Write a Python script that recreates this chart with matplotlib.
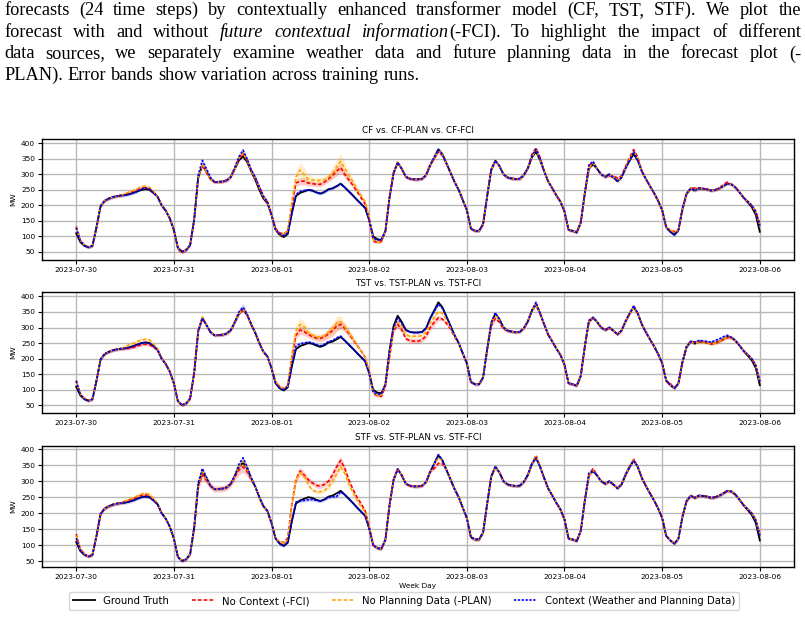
import matplotlib
matplotlib.use("Agg")
import matplotlib.dates as mdates
import matplotlib.pyplot as plt
import numpy as np
import pandas as pd
from matplotlib.ticker import MultipleLocator

W, H = 805, 619

# hourly load, 2023-07-30 00:00 .. 2023-08-06 00:00
HOURS = pd.date_range("2023-07-30", periods=169, freq="h")
TRUTH = [
    110, 82, 70, 65, 70, 130, 198, 215, 222, 227, 230, 232, 233, 236, 240, 245, 250, 252, 250, 240, 228, 200, 183, 158,
    121, 63, 51, 56, 72, 155, 290, 330, 308, 285, 275, 276, 277, 281, 292, 318, 345, 358, 340, 310, 283, 250, 222, 207,
    169, 121, 105, 98, 108, 175, 230, 240, 245, 250, 248, 242, 238, 243, 252, 255, 262, 270, 258, 245, 232, 218, 205, 192,
    153, 100, 91, 89, 118, 225, 305, 338, 318, 292, 286, 284, 284, 286, 298, 330, 355, 381, 365, 335, 305, 275, 250, 217,
    185, 125, 118, 118, 140, 230, 315, 344, 327, 300, 290, 287, 285, 286, 298, 320, 355, 373, 345, 310, 277, 255, 232, 212,
    180, 121, 118, 113, 145, 240, 318, 332, 318, 300, 292, 300, 290, 278, 290, 320, 345, 365, 345, 310, 285, 262, 240, 215,
    185, 129, 115, 105, 121, 190, 238, 255, 248, 255, 254, 252, 248, 250, 255, 262, 270, 268, 258, 242, 225, 210, 195, 170,
    115,
]

# forecast minus ground truth: {first hour: [gap, gap, ...]}, 0 elsewhere
CF_FCI_GAP = {0: [22, 6, 3], 12: [4, 5, 6, 6, 6, 5, 4, 3], 25: [-4, -3], 39: [3, 6, 10, 6, 4, 5, 8, 5, 3],
              49: [5, 6, 10, 10, 25, 42, 38, 33, 22, 22, 26, 30, 32, 33, 42, 48, 52, 42, 37, 33, 27, 20, 13, 5],
              73: [-15, -10, -5], 87: [3, -3, -8, -5], 112: [10, 12, 10],
              126: [10, 8, 0, 0, 0, -5, 5, 10, 5, 5, 10, 15, 10], 146: [5, 10, 0, -5, 0, 0, 8], 159: [5, 5],
              165: [3, 5, 10, 25]}
CF_PLAN_GAP = {0: [20, 5, 3], 12: [5, 7, 8, 9, 10, 10, 8, 5], 31: [5], 40: [8, 12, 6], 44: [5, 8, 5, 4],
               51: [10, 10, 38, 62, 74, 55, 35, 34, 38, 42, 40, 40, 50, 62, 72, 62, 52, 45, 36, 28, 20, 8],
               73: [-12, -8, -4], 89: [-3], 113: [8], 127: [5], 136: [5, 10, 5], 146: [5, 8], 165: [3, 5, 10, 22]}
CF_CTX_GAP = {0: [18, 4], 16: [3, 4, 3], 30: [8, 15, 10, 5], 39: [5, 12, 20, 10, 5, 8, 10, 8, 5],
              50: [3, 5, 3, 0, 5, 5, 3], 73: [-5, -3], 89: [-2], 112: [5, 8, 5], 126: [12, 10], 137: [8],
              165: [3, 5, 10, 20]}

TST_FCI_GAP = {0: [20, 5, 3], 13: [-3, -4, -5, -5, -6, -5, -3],
               49: [5, 5, 5, 5, 30, 45, 52, 42, 28, 23, 24, 27, 27, 28, 35, 43, 40, 40, 35, 30, 25, 20, 12, 5],
               73: [-12, -10, -10, -5, -20, -15, -28, -25, -28, -28, -28, -28, -25, -25, -30, -38, -50, -38, -22, -10, -5],
               102: [-10, -15, -10, -5], 113: [3], 126: [3], 137: [3], 146: [5], 152: [5], 160: [-3],
               165: [3, 5, 8, 12]}
TST_PLAN_GAP = {0: [18, 5, 3], 12: [6, 8, 9, 10, 10, 10, 10, 7, 4], 31: [5],
                49: [5, 5, 5, 5, 35, 60, 70, 58, 35, 28, 28, 32, 30, 33, 42, 52, 48, 45, 40, 33, 27, 20, 12, 5],
                73: [-10, -8, -5, 0, -12, -10, -20, -15, -15, -14, -12, -12, -12, -12, -15, -22, -30, -20, -10, -5],
                103: [-5], 165: [3, 5, 8, 10]}
TST_CTX_GAP = {0: [18, 4], 40: [5, 7, 3], 51: [3, 3, 5, 10, 8, 5, 3, 3, 3, 3, 3, 3, 3, 5, 2],
               73: [-8, -5, -3], 78: [-5, -8, -5], 88: [-3, -6, -3], 103: [3], 113: [8], 126: [5], 137: [5],
               152: [5, 3, 3, 3, 5, 8, 8, 8, 5], 165: [3, 5, 8, 12]}

STF_FCI_GAP = {0: [25, 6, 3], 12: [4, 5, 6, 6, 6, 6, 5, 3], 30: [-5, -10, -5], 39: [-5, -10, -13, -10, -5],
               50: [5, 10, 15, 55, 75, 92, 75, 55, 47, 45, 47, 47, 48, 65, 83, 95, 82, 60, 43, 32, 25, 16, 5],
               88: [-15, -25, -10], 113: [8], 127: [8], 137: [3], 165: [3, 5, 10, 20]}
STF_PLAN_GAP = {0: [20, 5, 3], 12: [5, 7, 8, 9, 10, 10, 9, 6, 3], 31: [3], 41: [5],
                50: [5, 8, 10, 50, 72, 87, 70, 40, 25, 25, 29, 28, 30, 45, 60, 75, 67, 45, 33, 22, 15, 13, 5],
                89: [-8], 113: [7], 165: [3, 5, 10, 18]}
STF_CTX_GAP = {0: [12, 3], 30: [5, 10, 5], 40: [8, 15, 5],
               52: [3, 0, 5, -2, -5, -8, -5, -2, 0, 0, -3, -3, -10, -3], 89: [2], 103: [3], 126: [8],
               165: [3, 5, 8, 15]}

# half width of the error band across training runs (MW); BAND_BASE elsewhere
BAND_BASE = 5
CF_FCI_BAND = {53: [6, 10, 12, 12, 10, 8, 8, 8, 8, 10, 12, 15, 15, 12, 10, 8]}
CF_PLAN_BAND = {53: [10, 20, 25, 22, 15, 10, 10, 10, 10, 12, 18, 22, 25, 20, 15, 10, 8]}
CF_CTX_BAND = {}
TST_FCI_BAND = {53: [8, 12, 15, 12, 10, 10, 10, 10, 12, 15, 18, 18, 15, 12, 10, 8],
                79: [10, 10, 8, 8, 8, 8, 8, 8, 10, 12, 10]}
TST_PLAN_BAND = {53: [10, 18, 22, 18, 12, 10, 10, 10, 10, 12, 18, 22, 20, 15, 12, 10]}
TST_CTX_BAND = {39: [8, 10, 12, 8]}
STF_FCI_BAND = {29: [8, 12, 15, 12, 10, 10, 10, 10, 10, 10, 12, 15, 18, 15, 10],
                53: [8, 10, 12, 10, 8, 8, 8, 8, 8, 10, 12, 15, 12, 10]}
STF_PLAN_BAND = {53: [8, 10, 10, 8, 6, 6, 6, 6, 6, 8, 10, 10, 8]}
STF_CTX_BAND = {}

TITLES = ["CF vs. CF-PLAN vs. CF-FCI", "TST vs. TST-PLAN vs. TST-FCI", "STF vs. STF-PLAN vs. STF-FCI"]
YLIMS = [(24, 414), (25.5, 414), (32, 410)]
GAPS = [
    (CF_FCI_GAP, CF_PLAN_GAP, CF_CTX_GAP),
    (TST_FCI_GAP, TST_PLAN_GAP, TST_CTX_GAP),
    (STF_FCI_GAP, STF_PLAN_GAP, STF_CTX_GAP),
]
BANDS = [
    (CF_FCI_BAND, CF_PLAN_BAND, CF_CTX_BAND),
    (TST_FCI_BAND, TST_PLAN_BAND, TST_CTX_BAND),
    (STF_FCI_BAND, STF_PLAN_BAND, STF_CTX_BAND),
]
SERIES_LABELS = ["No Context (-FCI)", "No Planning Data (-PLAN)", "Context (Weather and Planning Data)"]
SERIES_COLORS = ["red", "orange", "blue"]
SERIES_DASHES = [(0, (2.2, 1.3)), (0, (2.2, 1.3)), (0, (1.4, 0.9))]

CAPTION = [
    [[("forecasts", "normal")], [("(24", "normal")], [("time", "normal")], [("steps)", "normal")],
     [("by", "normal")], [("contextually", "normal")], [("enhanced", "normal")], [("transformer", "normal")],
     [("model", "normal")], [("(CF,", "normal")], [("TST,", "normal")], [("STF).", "normal")],
     [("We", "normal")], [("plot", "normal")], [("the", "normal")]],
    [[("forecast", "normal")], [("with", "normal")], [("and", "normal")], [("without", "normal")],
     [("future", "italic")], [("contextual", "italic")], [("information", "italic"), ("(-FCI).", "normal")],
     [("To", "normal")], [("highlight", "normal")], [("the", "normal")], [("impact", "normal")],
     [("of", "normal")], [("different", "normal")]],
    [[(w, "normal")] for w in "data sources, we separately examine weather data and future planning data in the forecast plot (-".split()],
    [[(w, "normal")] for w in "PLAN). Error bands show variation across training runs.".split()],
]


def expand(runs, fill=0.0):
    values = [fill] * len(TRUTH)
    for start, chunk in runs.items():
        values[start:start + len(chunk)] = chunk
    return np.asarray(values, dtype=float)


def draw_caption(fig, fontsize=13.2):
    renderer = fig.canvas.get_renderer()
    baselines = [15.0, 37.0, 58.5, 80.0]
    x0, x1 = 4.0, 801.0
    for line_no, (words, base) in enumerate(zip(CAPTION, baselines)):
        placed = []
        for word in words:
            parts = []
            for text, style in word:
                t = fig.text(0, 1 - base / H, text, fontsize=fontsize, family="Liberation Serif",
                             style=style, va="baseline", ha="left")
                parts.append((t, t.get_window_extent(renderer).width))
            placed.append(parts)
        widths = [sum(w for _, w in parts) for parts in placed]
        if line_no < len(CAPTION) - 1:
            gap = (x1 - x0 - sum(widths)) / (len(placed) - 1)
        else:
            gap = fontsize * 100 / 72 * 0.25
        x = x0
        for parts, width in zip(placed, widths):
            px = x
            for t, w in parts:
                t.set_x(px / W)
                px += w
            x += width + gap


truth = np.asarray(TRUTH, dtype=float)

fig = plt.figure(figsize=(W / 100, H / 100), dpi=100)
panel_tops = [139, 292, 446]
panel_h = 121

for i, top in enumerate(panel_tops):
    ax = fig.add_axes([42 / W, 1 - (top + panel_h) / H, 752 / W, panel_h / H])
    ax.plot(HOURS, truth, color="black", linewidth=1.3, label="Ground Truth", zorder=3)
    for gap_runs, band_runs, label, color, dash in zip(GAPS[i], BANDS[i], SERIES_LABELS,
                                                      SERIES_COLORS, SERIES_DASHES):
        forecast = truth + expand(gap_runs)
        band = expand(band_runs, BAND_BASE)
        ax.fill_between(HOURS, forecast - band, forecast + band, color=color, alpha=0.2,
                        linewidth=0, zorder=2)
        ax.plot(HOURS, forecast, color=color, linestyle=dash, linewidth=1.2, label=label, zorder=4)
    ax.set_title(TITLES[i], fontsize=6.3, pad=4)
    ax.set_ylabel("MW", fontsize=5.3, labelpad=3)
    ax.set_ylim(*YLIMS[i])
    ax.yaxis.set_major_locator(MultipleLocator(50))
    ax.xaxis.set_major_locator(mdates.DayLocator())
    ax.xaxis.set_major_formatter(mdates.DateFormatter("%Y-%m-%d"))
    ax.tick_params(labelsize=5.3, length=3, width=0.8, pad=2)
    ax.grid(True, color="#b8b8b8", linewidth=1.0)
    ax.set_axisbelow(True)
    for spine in ax.spines.values():
        spine.set_linewidth(1.0)
    if i == len(panel_tops) - 1:
        ax.set_xlabel("Week Day", fontsize=5.3, labelpad=2)
        handles, labels = ax.get_legend_handles_labels()

fig.legend(handles, labels, loc="center", bbox_to_anchor=(0.502, 1 - 601 / H), ncol=4,
           fontsize=7.3, frameon=True, handlelength=2.2, columnspacing=2.2, borderpad=0.4)

draw_caption(fig)

fig.savefig("out.png", dpi=100)
plt.close(fig)
